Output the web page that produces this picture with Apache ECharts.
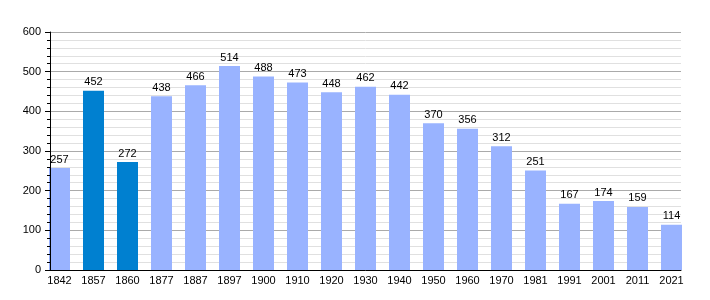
<!DOCTYPE html>
<html><head><meta charset="utf-8">
<script src="https://cdn.jsdelivr.net/npm/echarts@6/dist/echarts.min.js"></script>
<style>html,body{margin:0;padding:0;background:#fff}#c{width:710px;height:300px}</style>
</head><body><div id="c"></div>
<script>
var years = ['1842','1857','1860','1877','1887','1897','1900','1910','1920','1930','1940','1950','1960','1970','1981','1991','2001','2011','2021'];
var population = [257,452,272,438,466,514,488,473,448,462,442,370,356,312,251,167,174,159,114];
var highlighted = ['1857','1860'];
var yTicks = [0,100,200,300,400,500,600];

var lightColor = '#99B3FF', darkColor = '#0080D0';
var font = 'Liberation Sans, Arial, sans-serif';
var yMin = yTicks[0], yMax = yTicks[yTicks.length-1];
var chart = echarts.init(document.getElementById('c'), null, {renderer:'canvas'});
chart.setOption({
  animation:false,
  grid:[
    {left:50, top:32, width:631, height:238},
    {left:42.5, top:32, width:646, height:238}
  ],
  xAxis:[
    {gridIndex:0, type:'value', min:0, max:1, axisLabel:{show:false}, axisTick:{show:false}, splitLine:{show:false},
     axisLine:{show:true, lineStyle:{color:'#000', width:1}}, z:5},
    {gridIndex:1, type:'category', data:years, axisLine:{show:false}, axisTick:{show:false},
     axisLabel:{color:'#000', fontSize:11, fontFamily:font, margin:5, interval:0}}
  ],
  yAxis:[
    {gridIndex:0, type:'value', min:yMin, max:yMax, interval:100,
     axisLine:{show:false}, axisTick:{show:false}, axisLabel:{show:false},
     splitLine:{show:true, lineStyle:{color:'#aaaaaa', width:1}},
     minorTick:{show:false, splitNumber:5},
     minorSplitLine:{show:true, lineStyle:{color:'#e0e0e0', width:1}}, z:0},
    {gridIndex:0, type:'value', min:yMin, max:yMax, interval:100, position:'left',
     axisLine:{show:true, lineStyle:{color:'#000'}},
     axisTick:{show:true, length:5, lineStyle:{color:'#000'}},
     minorTick:{show:true, splitNumber:5, length:3, lineStyle:{color:'#000'}},
     splitLine:{show:false}, minorSplitLine:{show:false},
     axisLabel:{color:'#000', fontSize:11, fontFamily:font, margin:9}, z:5},
    {gridIndex:1, type:'value', min:yMin, max:yMax, show:false}
  ],
  series:[{
    type:'bar', xAxisIndex:1, yAxisIndex:2, barWidth:21,
    data: population.map(function(v,i){
      return {value:v, itemStyle:{color: highlighted.indexOf(years[i])>=0 ? darkColor : lightColor}};
    }),
    label:{show:true, position:'top', distance:3, color:'#000', fontSize:11, fontFamily:font},
    z:2
  }]
});
</script></body></html>
